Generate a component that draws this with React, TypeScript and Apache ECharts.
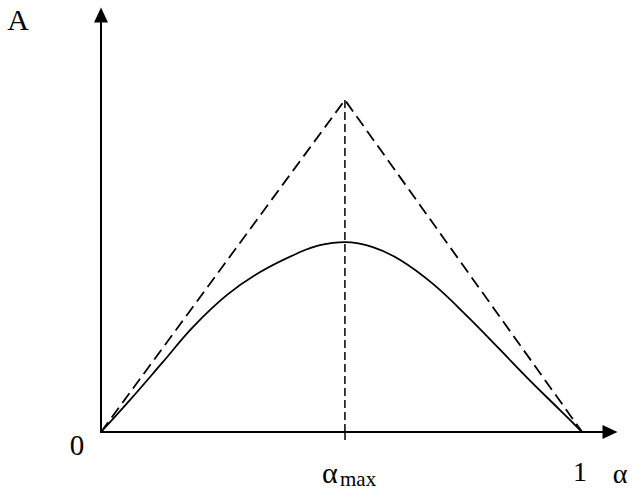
import React, { useEffect, useRef } from "react";
import * as echarts from "echarts";

// Position of the maximum on the α axis (fraction of the 0..1 range)
const alphaMax = 0.507;

// Dashed triangular envelope: 0 → peak at α_max → 1
const envelopeX = [0, alphaMax, 1];
const envelopeY = [0, 1, 0];

// Vertical dashed guide at α_max
const guideX = [alphaMax, alphaMax];
const guideY = [0, 1];

// Solid curve A(α)
const curveX = [0, 0.06, 0.127, 0.191, 0.262, 0.331, 0.414, 0.455, 0.507, 0.565, 0.622, 0.69, 0.761, 0.83, 0.886, 0.954, 1];
const curveY = [0, 0.096, 0.208, 0.316, 0.413, 0.482, 0.542, 0.563, 0.572, 0.557, 0.518, 0.446, 0.349, 0.247, 0.163, 0.066, 0];

// Axis extents (arrow heads sit past the 0..1 range)
const xMax = 1.058;
const yMax = 1.256;

const zip = (xs: number[], ys: number[]) => xs.map((x, i) => [x, ys[i]]);

const SERIF = "'Liberation Serif', 'DejaVu Serif', serif";

export default function App() {
  const ref = useRef<HTMLDivElement>(null);

  useEffect(() => {
    if (!ref.current) return;
    const chart = echarts.init(ref.current, null, { renderer: "svg" });
    const axisLine = {
      show: true,
      symbol: ["none", "triangle"],
      symbolSize: [14, 15],
      lineStyle: { color: "#000", width: 2 },
    };
    const label = (text: string, x: number, y: number, size: number, align = "center") => ({
      type: "text",
      x,
      y,
      style: {
        text,
        fontSize: size,
        fontFamily: SERIF,
        fill: "#000",
        align,
        verticalAlign: "middle",
      },
    });
    chart.setOption({
      animation: false,
      backgroundColor: "#fff",
      grid: { left: 101, right: 23, top: 15, bottom: 58 },
      xAxis: {
        type: "value",
        min: 0,
        max: xMax,
        axisLine,
        axisTick: {
          show: true,
          customValues: [alphaMax],
          length: 8,
          lineStyle: { color: "#000", width: 1.5 },
        },
        axisLabel: { show: false },
        splitLine: { show: false },
      },
      yAxis: {
        type: "value",
        min: 0,
        max: yMax,
        axisLine,
        axisTick: { show: false },
        axisLabel: { show: false },
        splitLine: { show: false },
      },
      series: [
        {
          type: "line",
          data: zip(envelopeX, envelopeY),
          symbol: "none",
          lineStyle: { color: "#000", width: 1.8, type: [12, 6] },
        },
        {
          type: "line",
          data: zip(guideX, guideY),
          symbol: "none",
          lineStyle: { color: "#000", width: 1.5, type: [8, 4] },
        },
        {
          type: "line",
          data: zip(curveX, curveY),
          symbol: "none",
          smooth: 0.4,
          lineStyle: { color: "#000", width: 1.8 },
        },
      ],
      graphic: [
        label("A", 18, 19, 30),
        label("0", 77, 445, 29),
        label("α", 322, 472, 30, "left"),
        label("max", 340, 479, 21, "left"),
        label("1", 580, 471, 28),
        label("α", 620, 473, 28),
      ],
    });
    return () => chart.dispose();
  }, []);

  return <div ref={ref} style={{ width: 633, height: 490, position: "absolute", left: 0, top: 0 }} />;
}
